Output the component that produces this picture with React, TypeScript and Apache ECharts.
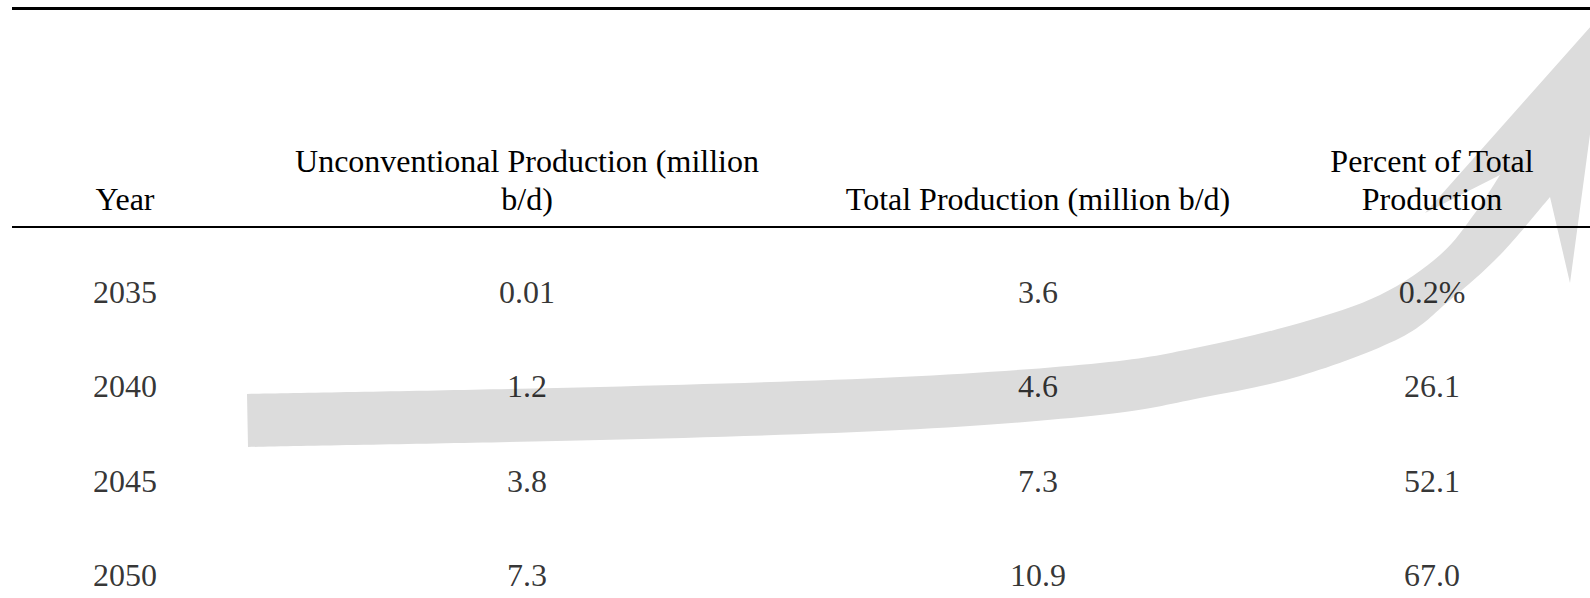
import React, { useEffect, useRef } from "react";
import * as echarts from "echarts";

// ---- data ----
const years: string[] = ["2035", "2040", "2045", "2050"];
const unconventional: number[] = [0.01, 1.2, 3.8, 7.3];
const totalProduction: number[] = [3.6, 4.6, 7.3, 10.9];
const percentOfTotal: number[] = [0.2, 26.1, 52.1, 67.0];
const headers: string[] = [
  "Year",
  "Unconventional Production (million\nb/d)",
  "Total Production (million b/d)",
  "Percent of Total\nProduction",
];

// ---- layout ----
const W = 1590;
const H = 598;
const COL_X = [125, 527, 1038, 1432];
const FONT = "'Liberation Serif', 'Times New Roman', Times, serif";
const FS = 32;

const arrowTop: number[][] = [
  [247, 394], [600, 387], [900, 377], [1100, 363], [1200, 347],
  [1300, 323], [1380, 295], [1440, 255], [1475, 213], [1500, 175],
];
const arrowBottom: number[][] = [
  [248, 447], [600, 440], [900, 430], [1100, 415], [1200, 398],
  [1300, 376], [1400, 338], [1450, 300], [1500, 255], [1550, 197],
];

function smoothSegs(pts: number[][]): string {
  let d = "";
  for (let i = 0; i < pts.length - 1; i++) {
    const p0 = pts[i - 1] || pts[i];
    const p1 = pts[i];
    const p2 = pts[i + 1];
    const p3 = pts[i + 2] || p2;
    const c1x = p1[0] + (p2[0] - p0[0]) / 6;
    const c1y = p1[1] + (p2[1] - p0[1]) / 6;
    const c2x = p2[0] - (p3[0] - p1[0]) / 6;
    const c2y = p2[1] - (p3[1] - p1[1]) / 6;
    d += ` C ${c1x.toFixed(1)} ${c1y.toFixed(1)} ${c2x.toFixed(1)} ${c2y.toFixed(1)} ${p2[0]} ${p2[1]}`;
  }
  return d;
}

function arrowPath(): string {
  const bottomRev = arrowBottom.slice().reverse();
  let d = `M ${arrowTop[0][0]} ${arrowTop[0][1]}`;
  d += smoothSegs(arrowTop);
  d += " L 1425 213 L 1607 8 L 1570 283";
  d += ` L ${bottomRev[0][0]} ${bottomRev[0][1]}`;
  d += smoothSegs(bottomRev);
  d += " Z";
  return d;
}

export default function App() {
  const ref = useRef<HTMLDivElement>(null);

  useEffect(() => {
    if (!ref.current) return;
    echarts.graphic.registerShape("curvedArrow", echarts.graphic.extendPath(arrowPath(), {}));
    const chart = echarts.init(ref.current, undefined, { renderer: "svg" });

    const columns = [
      years.map((y) => y),
      unconventional.map((v) => String(v)),
      totalProduction.map((v) => String(v)),
      percentOfTotal.map((v, i) => (i === 0 ? v.toFixed(1) + "%" : v.toFixed(1))),
    ];

    const series = columns.map((col, c) => ({
      type: "scatter",
      z: 10,
      symbolSize: 1,
      itemStyle: { color: "rgba(0,0,0,0)" },
      silent: true,
      data: col.map((txt, i) => ({ value: [COL_X[c], years[i]], txt })),
      label: {
        show: true,
        position: "inside",
        formatter: (p: any) => p.data.txt,
        fontFamily: FONT,
        fontSize: FS,
        color: "#000",
        align: "center",
        verticalAlign: "middle",
      },
    }));

    const headerTexts = headers.map((h, c) => ({
      type: "text",
      z: 100,
      x: COL_X[c],
      y: h.includes("\n") ? 180 : 199,
      style: {
        text: h,
        fontFamily: FONT,
        fontSize: FS,
        fill: "#000",
        align: "center",
        verticalAlign: "middle",
        lineHeight: 38,
      },
    }));

    chart.setOption({
      animation: false,
      backgroundColor: "#fff",
      grid: { left: 0, right: 0, top: 292, bottom: H - 575 },
      xAxis: { type: "value", min: 0, max: W, show: false },
      yAxis: {
        type: "category",
        data: years,
        inverse: true,
        boundaryGap: false,
        show: false,
      },
      graphic: {
        elements: [
          {
            type: "curvedArrow",
            z: 1,
            x: 0,
            y: 0,
            style: { fill: "#dcdcdc", stroke: "none" },
            silent: true,
          },
          {
            type: "line",
            z: 100,
            shape: { x1: 12, y1: 8.5, x2: W, y2: 8.5 },
            style: { stroke: "#000", lineWidth: 3 },
          },
          {
            type: "line",
            z: 100,
            shape: { x1: 12, y1: 227, x2: W, y2: 227 },
            style: { stroke: "#000", lineWidth: 2 },
          },
          ...headerTexts,
        ],
      },
      series,
    } as any);

    return () => chart.dispose();
  }, []);

  return (
    <div
      ref={ref}
      style={{ position: "fixed", left: 0, top: 0, width: W, height: H }}
    />
  );
}
